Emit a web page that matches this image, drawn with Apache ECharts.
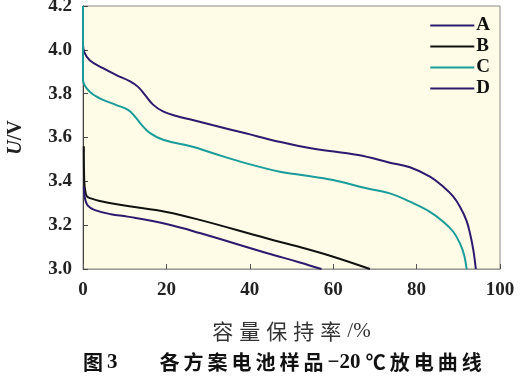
<!DOCTYPE html>
<html>
<head>
<meta charset="utf-8">
<script src="https://cdn.jsdelivr.net/npm/echarts@6/dist/echarts.min.js"></script>
<style>
html,body{margin:0;padding:0;background:#fff;}
#c{width:523px;height:377px;}
</style>
</head>
<body>
<div id="c"></div>
<script>
// Series data (x = capacity retention %, y = U/V)
const capA = [0, 0.3, 1.6, 4.8, 8, 11.2, 13.2, 14.8, 16.8, 19.2, 22.4, 26.3, 31, 39, 47, 55, 66, 73.6, 78.4, 83.2, 86.4, 88.8, 90.4, 91.9, 92.8, 93.6, 94.2];
const voltA = [4.025, 3.99, 3.953, 3.916, 3.885, 3.857, 3.831, 3.796, 3.75, 3.719, 3.698, 3.68, 3.657, 3.619, 3.581, 3.55, 3.52, 3.485, 3.464, 3.421, 3.375, 3.33, 3.284, 3.224, 3.163, 3.087, 3.0];

const capB = [0.2, 0.3, 0.6, 1.0, 1.9, 4, 6.7, 10.7, 20, 28, 44, 52, 60, 68.8];
const voltB = [3.56, 3.40, 3.35, 3.33, 3.322, 3.31, 3.30, 3.287, 3.26, 3.224, 3.14, 3.10, 3.056, 3.0];

const capC = [0, 0, 1.6, 4, 8, 10.8, 12.4, 14, 16, 19.2, 26.3, 31.2, 39.2, 47.2, 52, 60, 68, 73.6, 78.4, 83.2, 86.4, 88.8, 90.4, 91.4, 92.0];
const voltC = [4.2, 3.862, 3.809, 3.779, 3.748, 3.726, 3.697, 3.659, 3.621, 3.590, 3.558, 3.528, 3.482, 3.444, 3.43, 3.406, 3.368, 3.345, 3.307, 3.261, 3.216, 3.170, 3.117, 3.064, 3.0];

const capD = [0.2, 0.5, 1.1, 2.7, 6.7, 10.7, 20, 28, 44, 52, 57.2];
const voltD = [3.375, 3.32, 3.29, 3.27, 3.25, 3.239, 3.205, 3.164, 3.073, 3.03, 3.0];

const seriesNames = ['A', 'B', 'C', 'D'];
const seriesColors = ['#2c1a6e', '#111111', '#1a9c9a', '#2c1a6e'];
const xTicks = [0, 20, 40, 60, 80, 100];
const yTicks = [3.0, 3.2, 3.4, 3.6, 3.8, 4.0, 4.2];
const xName = '容量保持率/%';
const titleText = '图3　　各方案电池样品−20 ℃放电曲线';

const xs = [capA, capB, capC, capD];
const ys = [voltA, voltB, voltC, voltD];
const pairs = (a, b) => a.map((v, i) => [v, b[i]]);
const isCJK = ch => /[\u3001-\u9fff\u2103]/.test(ch);
// wrap each character in a rich segment so CJK glyphs can be spaced like the print
const spaced = s => Array.from(s).map(ch => isCJK(ch) ? '{c|' + ch + '}' : '{l|' + ch + '}').join('');

const SERIF = '"Liberation Serif", "Noto Sans CJK SC", serif';
const CJK = '"Noto Sans CJK SC", "Liberation Serif", sans-serif';

const chart = echarts.init(document.getElementById('c'), null, {renderer: 'canvas'});
chart.setOption({
  animation: false,
  backgroundColor: '#ffffff',
  grid: {
    left: 83, right: 23, top: 6, bottom: 108,
    outerBoundsMode: 'none', containLabel: false,
    show: true, backgroundColor: '#fefce6', borderColor: '#8a8a8a', borderWidth: 1
  },
  legend: {
    orient: 'vertical',
    right: 28, top: 11,
    itemWidth: 44, itemHeight: 2, itemGap: 2,
    icon: 'rect',
    data: seriesNames,
    textStyle: {fontFamily: SERIF, fontWeight: 'bold', fontSize: 19, color: '#111', padding: [0, 0, 0, -3]}
  },
  xAxis: {
    type: 'value', min: xTicks[0], max: xTicks[xTicks.length - 1], interval: 20,
    splitLine: {show: false},
    axisLine: {lineStyle: {color: '#9a9a9a', width: 1}},
    axisTick: {inside: true, length: 5, lineStyle: {color: '#555'}},
    axisLabel: {margin: 12, fontFamily: SERIF, fontWeight: 'bold', fontSize: 19, color: '#222'},
    name: spaced(xName),
    nameLocation: 'middle', nameGap: 52,
    nameTextStyle: {
      rich: {
        c: {fontFamily: CJK, fontSize: 21, color: '#333', fontWeight: 'normal', padding: [0, 6, 0, 0]},
        l: {fontFamily: SERIF, fontSize: 21, color: '#333', fontWeight: 'normal'}
      }
    }
  },
  yAxis: {
    type: 'value', min: yTicks[0], max: yTicks[yTicks.length - 1], interval: 0.2,
    splitLine: {show: false},
    axisLine: {lineStyle: {color: '#444', width: 1}},
    axisTick: {inside: true, length: 5, lineStyle: {color: '#444'}},
    axisLabel: {margin: 11, padding: [4, 0, 0, 0], fontFamily: SERIF, fontWeight: 'bold', fontSize: 19, color: '#222',
      formatter: v => v.toFixed(1)},
    name: '{i|U}/V',
    nameLocation: 'middle', nameGap: 57, nameRotate: 90,
    nameTextStyle: {fontFamily: SERIF, fontWeight: 'bold', fontSize: 20, color: '#222',
      rich: {i: {fontFamily: SERIF, fontWeight: 'bold', fontStyle: 'italic', fontSize: 20, color: '#222'}}}
  },
  title: {
    text: spaced(titleText),
    left: 83, top: 352, padding: 0,
    textStyle: {
      rich: {
        c: {fontFamily: CJK, fontWeight: 'bold', fontSize: 20, color: '#111', padding: [0, 4, 0, 0]},
        l: {fontFamily: SERIF, fontWeight: 'bold', fontSize: 21, color: '#111'}
      }
    }
  },
  series: seriesNames.map((n, i) => ({
    name: n, type: 'line', data: pairs(xs[i], ys[i]),
    smooth: 0.4, showSymbol: false, symbol: 'none',
    lineStyle: {color: seriesColors[i], width: 2},
    itemStyle: {color: seriesColors[i]},
    clip: true
  }))
});
</script>
</body>
</html>
